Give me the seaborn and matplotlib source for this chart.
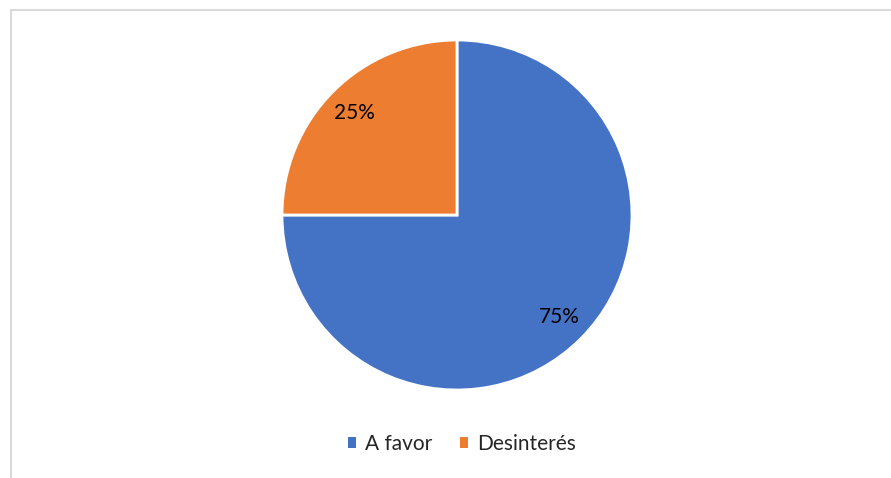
import matplotlib
matplotlib.use("Agg")
import matplotlib.pyplot as plt
from matplotlib.lines import Line2D
from matplotlib.patches import Patch
import seaborn as sns

categories = ["A favor", "Desinterés"]
shares = [75, 25]
colors = ["#4472C4", "#ED7D31"]

sns.set_theme(style="white")
plt.rcParams["font.family"] = ["Lato", "DejaVu Sans"]

W, H = 891, 478
fig = plt.figure(figsize=(W / 100, H / 100), dpi=100)
fig.patch.set_facecolor("white")

# pie placed by pixel geometry: centre (457, 215), radius 175
cx, cy, r = 457, 215, 175
ax = fig.add_axes([(cx - r) / W, (H - cy - r) / H, 2 * r / W, 2 * r / H])
wedges, texts, autotexts = ax.pie(
    shares,
    colors=sns.color_palette(colors),
    startangle=90,
    counterclock=False,
    autopct="%1.0f%%",
    pctdistance=0.825,
    wedgeprops=dict(edgecolor="white", linewidth=2, clip_on=False),
    textprops=dict(fontsize=15, color="#000000"),
)
ax.set_xlim(-1, 1)
ax.set_ylim(-1, 1)
ax.set_aspect("equal")
ax.axis("off")

# chart-area frame (left and top edges)
fig.add_artist(Line2D([10.5 / W, 10.5 / W], [0, 1 - 9.5 / H], transform=fig.transFigure,
                      color="#d9d9d9", linewidth=1.5))
fig.add_artist(Line2D([10.5 / W, 1], [1 - 9.5 / H, 1 - 9.5 / H], transform=fig.transFigure,
                      color="#d9d9d9", linewidth=1.5))

handles = [Patch(facecolor=c, edgecolor="none") for c in colors]
fig.legend(handles, categories, loc="center", bbox_to_anchor=(462 / W, 1 - 444 / H),
           ncol=2, frameon=False, fontsize=15, handlelength=0.4, handleheight=0.4,
           handletextpad=0.45, columnspacing=1.3)

fig.savefig("out.png", dpi=100, facecolor="white")
